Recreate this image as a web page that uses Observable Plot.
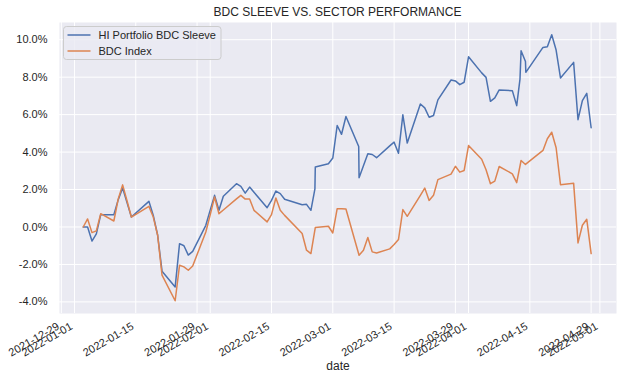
<!DOCTYPE html>
<html>
<head>
<meta charset="utf-8">
<script src="https://cdn.jsdelivr.net/npm/d3@7"></script>
<script src="https://cdn.jsdelivr.net/npm/@observablehq/plot@0.6"></script>
<style>
  body { margin: 0; background: #fff; }
  #wrap { position: relative; width: 628px; height: 382px; font-family: "Liberation Sans", Arial, sans-serif; color: #262626; }
  #chart { position: absolute; left: 0; top: 0; }
  #title { position: absolute; left: 59px; width: 557px; top: 5px; text-align: center; font-size: 12px; line-height: 14px; }
  #legend { position: absolute; left: 0; top: 0; pointer-events: none; }
</style>
</head>
<body>
<div id="wrap">
  <div id="chart"></div>
  <div id="title">BDC SLEEVE VS. SECTOR PERFORMANCE</div>
</div>
<script>
// ---- data (cumulative performance, %) ----
const dates = [
  "2022-01-03","2022-01-04","2022-01-05","2022-01-06","2022-01-07","2022-01-10","2022-01-11","2022-01-12","2022-01-13","2022-01-14",
  "2022-01-18","2022-01-19","2022-01-20","2022-01-21","2022-01-24","2022-01-25","2022-01-26","2022-01-27","2022-01-28","2022-01-31",
  "2022-02-01","2022-02-02","2022-02-03","2022-02-04","2022-02-07","2022-02-08","2022-02-09","2022-02-10","2022-02-11","2022-02-14",
  "2022-02-15","2022-02-16","2022-02-17","2022-02-18","2022-02-22","2022-02-23","2022-02-24","2022-02-25","2022-02-28",
  "2022-03-01","2022-03-02","2022-03-03","2022-03-04","2022-03-07","2022-03-08","2022-03-09","2022-03-10","2022-03-11","2022-03-14",
  "2022-03-15","2022-03-16","2022-03-17","2022-03-18","2022-03-21","2022-03-22","2022-03-23","2022-03-24","2022-03-25","2022-03-28",
  "2022-03-29","2022-03-30","2022-03-31",
  "2022-04-01","2022-04-04","2022-04-05","2022-04-06","2022-04-07","2022-04-08","2022-04-11","2022-04-12","2022-04-13","2022-04-14",
  "2022-04-18","2022-04-19","2022-04-20","2022-04-21","2022-04-22","2022-04-25","2022-04-26","2022-04-27","2022-04-28","2022-04-29"
];
const sleeveValues = [
  0, 0.0, -0.75, -0.37, 0.66, 0.66, 1.46, 2.08, 1.3, 0.53,
  1.37, 0.62, -0.44, -2.36, -3.2, -0.89, -1.0, -1.5, -1.3, 0.09,
  0.9, 1.69, 0.89, 1.64, 2.31, 2.17, 1.81, 2.13, 1.85, 1.03,
  1.42, 1.92, 1.78, 1.48, 1.19, 1.21, 0.89, 3.2, 3.38,
  3.68, 5.42, 4.95, 5.9, 2.63, 3.27, 3.91, 3.87, 3.7, 4.33,
  4.53, 3.94, 5.99, 4.48, 6.57, 6.36, 5.86, 5.95, 6.79, 7.85,
  7.8, 7.6, 7.73,
  9.09, 8.23, 7.99, 6.71, 6.89, 7.32, 7.28, 6.48, 9.41, 8.84,
  9.59, 9.63, 10.27, 9.45, 7.96, 8.79, 5.73, 6.75, 7.14, 5.3
];
const indexValues = [
  0, 0.43, -0.3, -0.21, 0.71, 0.32, 1.5, 2.25, 1.4, 0.53,
  1.1, 0.53, -0.44, -2.57, -3.94, -2.04, -2.13, -2.31, -2.08, -0.27,
  0.65, 1.6, 0.71, 0.91, 1.5, 1.69, 1.49, 1.49, 0.89, 0.27,
  0.66, 1.55, 0.89, 0.62, -0.35, -1.24, -1.42, -0.03, 0.04,
  -0.32, 0.98, 0.98, 0.96, -1.51, -1.24, -0.56, -1.33, -1.39, -1.17,
  -0.94, -0.67, 0.93, 0.57, 1.69, 2.08, 1.42, 1.69, 2.53, 2.82,
  3.24, 2.93, 3.02,
  4.35, 3.62, 3.06, 2.31, 2.45, 3.23, 2.84, 2.37, 3.55, 3.34,
  4.09, 4.71, 5.06, 4.23, 2.26, 2.34, -0.85, 0.09, 0.41, -1.42
];
// intraday readings of the sleeve visible as near-vertical steps
const sleeveExtraDates = ["2022-02-24T22:00Z", "2022-03-06T22:00Z", "2022-04-12T18:00Z", "2022-04-14T02:00Z"];
const sleeveExtraValues = [2.04, 4.3, 7.9, 8.26];

const seriesNames = ["HI Portfolio BDC Sleeve", "BDC Index"];
const seriesColors = ["#4c72b0", "#dd8452"];

const xTickLabels = ["2021-12-29","2022-01-01","2022-01-15","2022-01-29","2022-02-01","2022-02-15","2022-03-01",
                     "2022-03-15","2022-03-29","2022-04-01","2022-04-15","2022-04-29","2022-05-01"];
const yTicks = [-4, -2, 0, 2, 4, 6, 8, 10];

// ---- build tables ----
const sleeve = dates.map((d, i) => ({date: new Date(d), value: sleeveValues[i]}))
  .concat(sleeveExtraDates.map((d, i) => ({date: new Date(d), value: sleeveExtraValues[i]})))
  .sort((a, b) => a.date - b.date);
const bdcIndex = dates.map((d, i) => ({date: new Date(d), value: indexValues[i]}));
const xTicks = xTickLabels.map(d => new Date(d));
const fmt = d3.utcFormat("%Y-%m-%d");

const W = 628, H = 382;
const chart = Plot.plot({
  width: W,
  height: H,
  marginLeft: 59,
  marginRight: 12,
  marginTop: 22,
  marginBottom: 69,
  style: {fontFamily: '"Liberation Sans", Arial, sans-serif', fontSize: "11px", color: "#262626", background: "white"},
  x: {type: "utc", domain: [new Date("2021-12-28T14:00Z"), new Date("2022-05-04T19:00Z")], axis: null},
  y: {domain: [-4.62, 10.92], axis: null},
  marks: [
    Plot.frame({fill: "#eaeaf2", stroke: "none"}),
    Plot.gridX(xTicks, {stroke: "white", strokeOpacity: 1, strokeWidth: 1}),
    Plot.gridY(yTicks, {stroke: "white", strokeOpacity: 1, strokeWidth: 1}),
    Plot.axisY(yTicks, {tickSize: 0, tickPadding: 12, tickFormat: d => d.toFixed(1) + "%", fontSize: 11, fill: "#262626", label: null}),
    Plot.text(xTicks, {x: d => d, text: d => fmt(d), frameAnchor: "bottom", rotate: -30, textAnchor: "end",
                       lineAnchor: "middle", dx: -3, dy: 12, fontSize: 11, fill: "#262626"}),
    Plot.text(["date"], {frameAnchor: "bottom", dy: 53, lineAnchor: "middle", fontSize: 12, fill: "#262626"}),
    Plot.line(sleeve, {x: "date", y: "value", stroke: seriesColors[0], strokeWidth: 1.5}),
    Plot.line(bdcIndex, {x: "date", y: "value", stroke: seriesColors[1], strokeWidth: 1.5})
  ]
});
document.getElementById("chart").appendChild(chart);

// ---- legend ----
const ns = "http://www.w3.org/2000/svg";
const leg = document.createElementNS(ns, "svg");
leg.setAttribute("id", "legend");
leg.setAttribute("width", W);
leg.setAttribute("height", H);
leg.style.position = "absolute"; leg.style.left = "0"; leg.style.top = "0";
const box = document.createElementNS(ns, "rect");
Object.entries({x: 63.5, y: 26.5, width: 157.5, height: 33, rx: 3, fill: "#eaeaf2", "fill-opacity": 0.8, stroke: "#cccccc", "stroke-width": 1})
  .forEach(([k, v]) => box.setAttribute(k, v));
leg.appendChild(box);
seriesNames.forEach((name, i) => {
  const cy = 35 + i * 16;
  const ln = document.createElementNS(ns, "line");
  Object.entries({x1: 67.5, x2: 90.5, y1: cy, y2: cy, stroke: seriesColors[i], "stroke-width": 1.5}).forEach(([k, v]) => ln.setAttribute(k, v));
  leg.appendChild(ln);
  const tx = document.createElementNS(ns, "text");
  Object.entries({x: 98.5, y: cy + 3.9, fill: "#262626", "font-size": 11, "font-family": '"Liberation Sans", Arial, sans-serif'}).forEach(([k, v]) => tx.setAttribute(k, v));
  tx.textContent = name;
  leg.appendChild(tx);
});
document.getElementById("wrap").appendChild(leg);
</script>
</body>
</html>
